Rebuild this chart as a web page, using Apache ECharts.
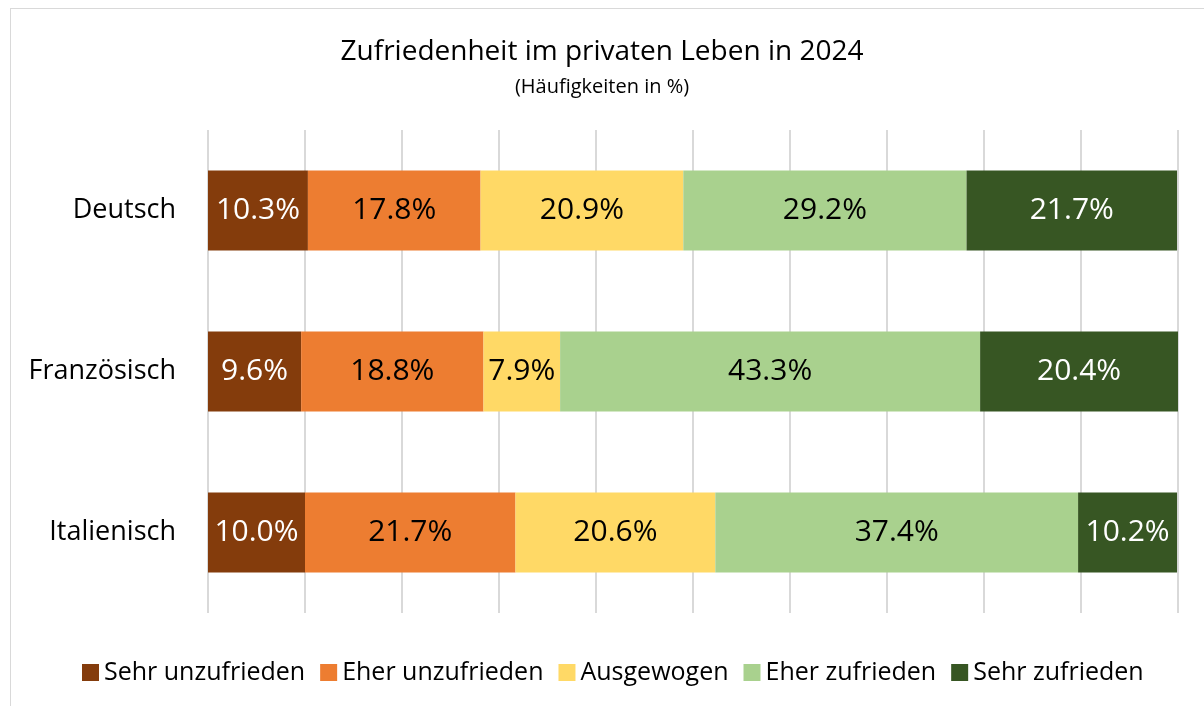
<!DOCTYPE html>
<html>
<head>
<meta charset="utf-8">
<script src="https://cdn.jsdelivr.net/npm/echarts@6/dist/echarts.min.js"></script>
<style>
  html, body { margin: 0; padding: 0; background: #fff; }
  #chart { width: 1204px; height: 706px; position: relative; }
  .frame { position: absolute; left: 10px; top: 8px; width: 1200px; height: 710px; border: 1px solid #d9d9d9; box-sizing: border-box; pointer-events: none; }
</style>
</head>
<body>
<div id="chart"></div>
<div class="frame"></div>
<script>
const categories = ['Deutsch', 'Französisch', 'Italienisch']
const seriesNames = ['Sehr unzufrieden', 'Eher unzufrieden', 'Ausgewogen', 'Eher zufrieden', 'Sehr zufrieden']
const sehrUnzufrieden = [10.3, 9.6, 10.0]
const eherUnzufrieden = [17.8, 18.8, 21.7]
const ausgewogen = [20.9, 7.9, 20.6]
const eherZufrieden = [29.2, 43.3, 37.4]
const sehrZufrieden = [21.7, 20.4, 10.2]

const values = [sehrUnzufrieden, eherUnzufrieden, ausgewogen, eherZufrieden, sehrZufrieden]
const colors = ['#843c0c', '#ed7d31', '#ffd966', '#a9d18e', '#375623']
const labelColors = ['#fff', '#000', '#000', '#000', '#fff']
const font = 'Open Sans'

const chart = echarts.init(document.getElementById('chart'))
chart.setOption({
  textStyle: { fontFamily: font },
  title: {
    text: 'Zufriedenheit im privaten Leben in 2024',
    subtext: '(Häufigkeiten in %)',
    left: 'center',
    top: 33,
    itemGap: 11,
    textStyle: { fontFamily: font, fontSize: 28, fontWeight: 'normal', color: '#000' },
    subtextStyle: { fontFamily: font, fontSize: 20, color: '#000' }
  },
  legend: {
    top: 655,
    left: 77,
    itemWidth: 17,
    itemHeight: 17,
    itemGap: 15,
    icon: 'rect',
    textStyle: { fontFamily: font, fontSize: 25, color: '#000' },
    data: seriesNames
  },
  grid: { left: 208, right: 26, top: 130, bottom: 93 },
  xAxis: {
    type: 'value',
    min: 0,
    max: 100,
    interval: 10,
    axisLabel: { show: false },
    axisLine: { show: false },
    axisTick: { show: false },
    splitLine: { lineStyle: { color: '#d9d9d9', width: 2 } }
  },
  yAxis: {
    type: 'category',
    inverse: true,
    data: categories,
    axisLine: { show: false },
    axisTick: { show: false },
    axisLabel: { fontFamily: font, fontSize: 27, color: '#000', margin: 32 }
  },
  series: seriesNames.map((name, i) => ({
    name: name,
    type: 'bar',
    stack: 'total',
    barWidth: 80,
    data: values[i],
    itemStyle: { color: colors[i] },
    label: {
      show: true,
      position: 'inside',
      formatter: p => p.value.toFixed(1) + '%',
      fontFamily: font,
      fontSize: 30,
      color: labelColors[i]
    }
  }))
})
</script>
</body>
</html>
